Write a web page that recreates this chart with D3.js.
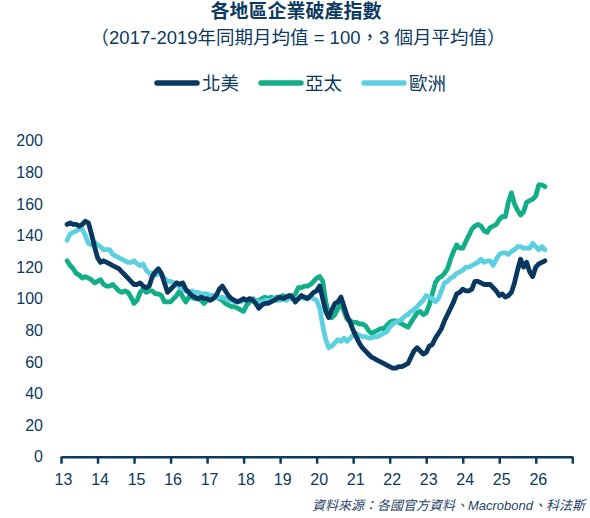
<!DOCTYPE html>
<html>
<head>
<meta charset="utf-8">
<script src="https://cdn.jsdelivr.net/npm/d3@7"></script>
<style>
  html, body { margin: 0; padding: 0; background: #fff; }
  svg { display: block; font-family: "Liberation Sans", Arial, "Noto Sans CJK TC", sans-serif; }
</style>
</head>
<body>
<svg id="chart" width="590" height="518"></svg>
<script>
// ---- Data ----
const title = "各地區企業破產指數";
const subtitle = "（2017-2019年同期月均值 = 100，3 個月平均值）";
const source = "資料來源：各國官方資料、Macrobond、科法斯";
const seriesNames = ["北美", "亞太", "歐洲"];
const startYear = 2013, startMonth = 3; // first observation: Mar 2013, monthly
const xTickYears = [2013,2014,2015,2016,2017,2018,2019,2020,2021,2022,2023,2024,2025,2026,2027];
const xTickLabels = ["13","14","15","16","17","18","19","20","21","22","23","24","25","26",""];
const yTicks = [0,20,40,60,80,100,120,140,160,180,200];

const northAmerica = [
  147,148,147,147,146,147,149,148,141,133,
  126,123,124,123,122,121,120,119,117,115,113,111,
  109,109,110,108,107,108,114,117,119,116,110,104,
  106,108,110,109,110,106,104,102,101,100,101,100,
  100,99,100,102,106,108,105,102,100,99,98,99,
  100,99,100,99,97,94,96,97,97,98,99,100,
  101,100,101,102,101,98,100,102,101,100,102,104,
  105,108,100,92,88,93,97,98,101,95,89,85,
  80,76,72,69,67,65,63,62,61,60,59,58,
  57,56,56,57,57,58,59,63,67,69,67,65,
  66,70,71,75,78,81,86,90,94,98,103,104,
  106,105,105,106,111,111,110,109,109,109,107,105,
  102,103,101,102,104,110,118,125,120,123,117,114,
  120,122,123,124
];
const asiaPacific = [
  124,121,119,116,115,113,114,113,112,110,
  111,112,109,108,108,109,107,105,104,105,104,101,
  97,99,104,106,104,105,105,103,103,102,98,98,
  98,100,102,105,101,98,101,101,100,100,99,97,
  99,101,102,101,100,99,97,96,95,95,94,93,
  92,96,98,100,99,99,100,101,100,101,100,101,
  101,102,101,102,102,103,107,107,108,108,109,111,
  113,114,111,98,90,88,90,94,97,92,87,86,
  85,85,84,84,83,80,78,79,80,81,81,83,
  85,86,86,85,84,83,82,85,88,91,92,90,
  91,96,103,110,113,114,116,119,125,130,134,132,
  132,136,140,144,146,147,146,143,142,145,146,147,
  150,152,152,161,167,160,156,153,155,161,162,163,
  165,172,172,171
];
const europe = [
  137,141,142,143,144,144,140,135,134,136,
  134,133,131,131,131,128,127,126,125,124,123,123,
  124,122,121,122,118,116,116,115,116,115,113,111,
  111,110,110,107,106,105,104,105,104,104,103,103,
  103,102,102,101,101,101,100,99,99,98,98,98,
  99,99,100,99,99,98,98,99,99,99,100,99,
  99,100,99,100,100,100,100,101,100,101,101,100,
  99,94,83,74,69,70,72,74,73,75,73,75,
  77,78,77,76,76,75,75,76,76,77,78,79,
  82,84,85,86,87,89,90,92,93,95,97,99,
  102,101,100,98,100,105,110,111,113,114,116,117,
  118,120,120,121,122,123,125,123,124,124,121,125,
  128,129,129,128,130,131,133,133,132,132,132,135,
  133,131,133,131
];
const seriesValues = [northAmerica, asiaPacific, europe];
const colors = ["#08375f", "#12ae88", "#5dd0e0"];

// ---- Chart ----
const textColor = "#0c3a60";
const svg = d3.select("#chart");

const toMonths = (y, m) => (y - 2013) * 12 + (m - 1);
const x = d3.scaleLinear().domain([0, 168]).range([61, 572.3]);
const y = d3.scaleLinear().domain([0, 200]).range([456.7, 140.7]);

// Title
svg.append("text").attr("x", 296).attr("y", 18).attr("text-anchor", "middle")
  .attr("font-size", 19).attr("font-weight", "bold").attr("fill", textColor)
  .text(title);
svg.append("text").attr("x", 298).attr("y", 44).attr("text-anchor", "middle")
  .attr("font-size", 18.5).attr("fill", textColor).text(subtitle);

// Legend
const legendItems = [
  {x1: 157, x2: 197, tx: 202},
  {x1: 261, x2: 301, tx: 305},
  {x1: 364, x2: 404, tx: 409}
];
seriesNames.forEach((name, i) => {
  const it = legendItems[i];
  svg.append("line").attr("x1", it.x1).attr("x2", it.x2).attr("y1", 83).attr("y2", 83)
    .attr("stroke", colors[i]).attr("stroke-width", 5.5).attr("stroke-linecap", "round");
  svg.append("text").attr("x", it.tx).attr("y", 90).attr("font-size", 18.5)
    .attr("fill", textColor).text(name);
});

// Y axis (labels only)
const yAxis = d3.axisLeft(y).tickValues(yTicks).tickSize(0).tickPadding(0);
const gy = svg.append("g").attr("transform", "translate(43,0)").call(yAxis);
gy.select(".domain").remove();
gy.selectAll("text").attr("font-size", 16).attr("fill", textColor)
  .attr("font-family", "'Liberation Sans', Arial, sans-serif");

// X axis
const xAxis = d3.axisBottom(x)
  .tickValues(xTickYears.map(yr => toMonths(yr, 1)))
  .tickFormat((d, i) => xTickLabels[i])
  .tickSize(7).tickSizeOuter(0).tickPadding(10);
const gx = svg.append("g").attr("transform", "translate(0,456.7)").call(xAxis);
gx.select(".domain").attr("stroke", textColor).attr("stroke-width", 2.5);
gx.selectAll(".tick line").attr("stroke", textColor).attr("stroke-width", 2.5);
gx.selectAll("text").attr("font-size", 16).attr("fill", textColor)
  .attr("dx", 2).attr("font-family", "'Liberation Sans', Arial, sans-serif");

// Lines
const start = toMonths(startYear, startMonth);
const line = d3.line().x((d, i) => x(start + i)).y(d => y(d)).curve(d3.curveLinear);
[1, 2, 0].forEach(k => {
  svg.append("path").datum(seriesValues[k])
    .attr("fill", "none").attr("stroke", colors[k]).attr("stroke-width", 4.8)
    .attr("stroke-linejoin", "round").attr("stroke-linecap", "round")
    .attr("d", line);
});

// Source
svg.append("text").attr("x", 585).attr("y", 510).attr("text-anchor", "end")
  .attr("font-size", 13).attr("font-style", "italic").attr("fill", "#1f4468")
  .text(source);
</script>
</body>
</html>
